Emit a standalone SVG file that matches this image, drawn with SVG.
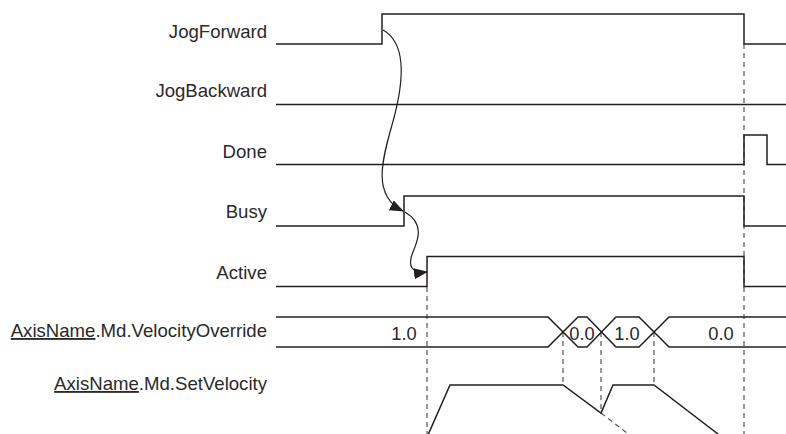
<svg xmlns="http://www.w3.org/2000/svg" width="786" height="434" viewBox="0 0 786 434">
<style>
.lbl{font-family:"Liberation Sans",Arial,sans-serif;font-size:18.6px;fill:#2a2a2a;text-anchor:end}
.val{font-family:"Liberation Sans",Arial,sans-serif;font-size:18.3px;fill:#2a2a2a;text-anchor:middle}
.sig{fill:none;stroke:#231f20;stroke-width:1.5;stroke-linejoin:miter}
.thin{fill:none;stroke:#231f20;stroke-width:1.2}
.dash{fill:none;stroke:#555;stroke-width:1.2;stroke-dasharray:5 4}
</style>
<defs>
<marker id="ah" viewBox="0 0 14 11" refX="13" refY="5.5" markerWidth="14" markerHeight="11" markerUnits="userSpaceOnUse" orient="auto">
<path d="M0,0 L14,5.5 L0,11 Z" fill="#231f20"/>
</marker>
</defs>
<rect width="786" height="434" fill="#fff"/>
<g id="labels">
<text class="lbl" x="267" y="37.5">JogForward</text>
<text class="lbl" x="267" y="97">JogBackward</text>
<text class="lbl" x="267" y="158">Done</text>
<text class="lbl" x="267" y="218">Busy</text>
<text class="lbl" x="267" y="278.5">Active</text>
<text class="lbl" x="267" y="337"><tspan text-decoration="underline">AxisName</tspan>.Md.VelocityOverride</text>
<text class="lbl" x="267" y="390"><tspan text-decoration="underline">AxisName</tspan>.Md.SetVelocity</text>
</g>
<g id="connectors">
<path class="dash" d="M744,44 V434"/>
<path class="dash" d="M427,287 V434"/>
<path class="dash" d="M563,332 V385"/>
<path class="dash" d="M601,332 V413"/>
<path class="dash" d="M654,332 V385"/>
<path class="dash" d="M601,413 L627,433"/>
<path class="thin" d="M383,30 C410,45 402,90 392,125 C382,160 372,196 403,211" marker-end="url(#ah)"/>
<path class="thin" d="M405,212 C425,224 418,240 413,252 C407,266 412,274 427,272" marker-end="url(#ah)"/>
</g>
<g id="JogForward"><path class="sig" d="M276,44 H382 V14 H744 V44 H786"/></g>
<g id="JogBackward"><path class="sig" d="M276,104.5 H786"/></g>
<g id="Done"><path class="sig" d="M276,164.5 H744 V135 H767 V164.5 H786"/></g>
<g id="Busy"><path class="sig" d="M276,226 H404 V196 H744 V226 H786"/></g>
<g id="Active"><path class="sig" d="M276,286.5 H427 V256.5 H744 V286.5 H786"/></g>
<g id="VelocityOverride">
<path class="sig" d="M276,317 H548 L578,347 H587 L616,317 H639 L669,347 H786"/>
<path class="sig" d="M276,347 H548 L578,317 H587 L616,347 H639 L669,317 H786"/>
<text class="val" x="404" y="339.5">1.0</text>
<text class="val" x="582" y="339.5">0.0</text>
<text class="val" x="627" y="339.5">1.0</text>
<text class="val" x="721" y="339.5">0.0</text>
</g>
<g id="SetVelocity">
<path class="sig" d="M428,435 L450,385 H563 L601,413 L613,385 H654 L718,434"/>
</g>
</svg>
